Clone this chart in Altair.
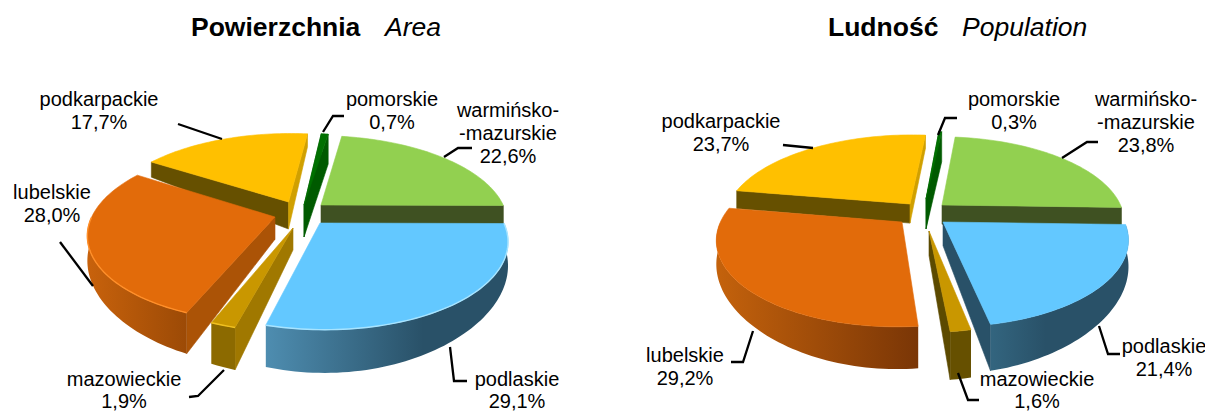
import math
import altair as alt
import pandas as pd

regions = ["warm", "podl", "maz", "lub", "podk", "pom"]
area_values = [22.6, 29.1, 1.9, 28.0, 17.7, 0.7]
population_values = [23.8, 21.4, 1.6, 29.2, 23.7, 0.3]

FONT = "Liberation Sans"
P, RX, RY, CY, H = 0.19, 185.0, 85.0, 212.0, 20.0

styles = {
    "warm": dict(top="#92D050", wall="#3F5122", side="#5A7A30"),
    "podl": dict(top="#63C8FF", wall="#295168", side="#295168"),
    "maz": dict(top="#C99700", wall="#A07800", side="#5C4A00"),
    "lub": dict(top="#E26B0A", wall="#AB5306", side="#AB5306"),
    "podk": dict(top="#FFC000", wall="#665000", side="#D0A000"),
    "pom": dict(top="#007000", wall="#005A00", side="#005A00"),
}
charts = [
    dict(values=area_values, start=9.0, cx=300.0,
         apex=dict(warm=(321, 205), podl=(320, 223), maz=(293, 228), lub=(275, 217), podk=(288.5, 202), pom=(304, 205)),
         radius=dict(podl=0.97, lub=0.98, maz=0.93, pom=1.04),
         scale_h=dict(lub=1.08),
         wall=dict(podk=(27, None), pom=(32, 30)),
         rim=dict(podl=("#4E8DB0", "#295168", 0.65), maz=("#8C6A00", "#8C6A00", 1), lub=("#C8620C", "#9C4A06", 1)),
         glow=dict(podl="#A8E4FF", lub="#FF8F2A", maz="#F0C020")),
    dict(values=population_values, start=6.0, cx=925.0,
         apex=dict(warm=(942, 205), podl=(943, 222), maz=(929, 231), lub=(902, 222), podk=(910, 204), pom=(926, 199)),
         radius=dict(warm=0.98, podl=0.96, lub=0.96, maz=0.9, pom=1.0),
         scale_h=dict(podl=1.12, maz=1.1),
         wall=dict(pom=(30, 30)),
         rim=dict(podl=("#33657F", "#295168", 0.4), maz=("#665000", "#665000", 1), lub=("#C4620C", "#7A3606", 1)),
         glow=dict()),
]
draw_order = ["pom", "podk", "warm", "lub", "maz", "podl"]

labels = [
    ("podkarpackie", 99, 106), ("17,7%", 99, 129), ("lubelskie", 52, 199), ("28,0%", 52, 222),
    ("mazowieckie", 124, 386), ("1,9%", 124, 408), ("pomorskie", 392, 106), ("0,7%", 392, 129),
    ("warmińsko-", 508, 117), ("-mazurskie", 508, 140), ("22,6%", 508, 163),
    ("podlaskie", 517, 386), ("29,1%", 517, 408),
    ("podkarpackie", 721, 128), ("23,7%", 721, 151), ("lubelskie", 685, 362), ("29,2%", 685, 385),
    ("mazowieckie", 1037, 386), ("1,6%", 1037, 408), ("pomorskie", 1014, 106), ("0,3%", 1014, 129),
    ("warmińsko-", 1146, 106), ("-mazurskie", 1146, 129), ("23,8%", 1146, 152),
    ("podlaskie", 1164, 353), ("21,4%", 1164, 376),
]
leaders = [
    [(178, 124), (222, 139)], [(60, 242), (93, 286)], [(189, 397), (198, 396), (224, 370)],
    [(344, 116), (333, 116), (323, 132)], [(472, 148), (458, 148), (444, 157)],
    [(467, 381), (454, 381), (450, 347)],
    [(783, 145), (813, 148)], [(731, 362), (743, 362), (753, 331)], [(979, 400), (968, 400), (958, 373)],
    [(957, 118), (945, 118), (938, 135)], [(1098, 142), (1087, 142), (1062, 158)],
    [(1120, 354), (1108, 354), (1099, 326)],
]
titles = [
    ("Powierzchnia", 191, "bold", "normal"), ("Area", 385, "normal", "italic"),
    ("Ludność", 828, "bold", "normal"), ("Population", 962, "normal", "italic"),
]

xs = alt.Scale(domain=[8, 1205], range=[0, 1197], nice=False, zero=False)
ys = alt.Scale(domain=[8, 412], range=[0, 404], nice=False, zero=False)
X = alt.X("x:Q", scale=xs, axis=None)
Y = alt.Y("y:Q", scale=ys, axis=None)


def poly(points, fill, stroke=None):
    pts = list(points) + [points[0]]
    df = pd.DataFrame({"x": [p[0] for p in pts], "y": [p[1] for p in pts], "o": range(len(pts))})
    return alt.Chart(df).mark_line(fill=fill, stroke=stroke or "transparent", strokeWidth=0.6, interpolate="linear").encode(
        x=X, y=Y, order="o:Q")


def polyline(points, color, width):
    df = pd.DataFrame({"x": [p[0] for p in points], "y": [p[1] for p in points], "o": range(len(points))})
    return alt.Chart(df).mark_line(stroke=color, strokeWidth=width).encode(x=X, y=Y, order="o:Q")


layers = []
for idx, c in enumerate(charts):
    cx = c["cx"]

    def invert(sx, sy):
        d = sy - CY
        yy = d / (RY + P * d)
        return (sx - cx) * (1 - P * yy) / RX, yy

    def project(xx, yy):
        s = 1 / (1 - P * yy)
        return cx + RX * xx * s, CY + RY * yy * s

    angle = c["start"]
    spans = {}
    for name, v in zip(regions, c["values"]):
        spans[name] = (angle, angle + 3.6 * v)
        angle += 3.6 * v

    for name in draw_order:
        a0, a1 = spans[name]
        r = c["radius"].get(name, 1.0)
        k = c["scale_h"].get(name, 1.0)

        def depth(yy):
            return k * H / (1 - 0.49 * yy)

        st = styles[name]
        ax, ay = invert(*c["apex"][name])
        n = max(3, int((a1 - a0) / 1.5))
        disk = []
        for i in range(n + 1):
            th = a0 + (a1 - a0) * i / n
            disk.append((ax + r * math.sin(math.radians(th)), ay - r * math.cos(math.radians(th)), th))
        apex_s = project(ax, ay)
        top = [apex_s] + [project(d[0], d[1]) for d in disk]
        e0 = project(disk[0][0], disk[0][1])
        e1 = project(disk[-1][0], disk[-1][1])
        centroid = ((apex_s[0] + e0[0] + e1[0]) / 3, (apex_s[1] + e0[1] + e1[1]) / 3)
        apex_h, edge_h = c["wall"].get(name, (None, None))

        def visible(edge):
            dx = edge[0] - apex_s[0]
            if abs(dx) < 1e-6:
                return False
            return centroid[1] < apex_s[1] + (centroid[0] - apex_s[0]) * (edge[1] - apex_s[1]) / dx

        for (d, which) in ((disk[0], "start"), (disk[-1], "end")):
            edge = project(d[0], d[1])
            if visible(edge) or name == "pom":
                color = st["wall"] if which == "start" else st["side"]
                if name == "maz" and idx == 0:
                    color = "#A07800"
                if name == "warm":
                    color = st["wall"]
                eh = edge_h if edge_h is not None else depth(d[1])
                ah = apex_h if apex_h is not None else depth(ay)
                quad = [apex_s, edge, (edge[0], edge[1] + eh), (apex_s[0], apex_s[1] + ah)]
                layers.append(poly(quad, color, color))

        front = [d for d in disk if math.cos(math.radians(d[2])) < 0]
        if name in c["rim"] and len(front) > 1:
            left_c, right_c, stop = c["rim"][name]
            upper = [project(d[0], d[1]) for d in front]
            lower = [(u[0], u[1] + depth(d[1])) for u, d in zip(upper, front)]
            grad = alt.Gradient(gradient="linear", x1=0, x2=1, y1=0, y2=0, stops=[
                alt.GradientStop(color=left_c, offset=0),
                alt.GradientStop(color=right_c, offset=stop),
                alt.GradientStop(color=right_c, offset=1),
            ])
            layers.append(poly(upper + lower[::-1], grad))

        layers.append(poly(top, st["top"], st["top"]))
        if name in c["glow"] and len(front) > 1:
            layers.append(polyline([project(d[0], d[1]) for d in front], c["glow"][name], 1.4))

for line in leaders:
    layers.append(polyline(line, "#000000", 2.3))

text_df = pd.DataFrame(labels, columns=["t", "x", "y"])
layers.append(alt.Chart(text_df).mark_text(font=FONT, fontSize=20, align="center", baseline="alphabetic", color="#000000").encode(
    x=X, y=Y, text="t:N"))
for t, x, w, s in titles:
    layers.append(alt.Chart(pd.DataFrame({"t": [t], "x": [x], "y": [36]})).mark_text(
        font=FONT, fontSize=26.5, fontWeight=w, fontStyle=s, align="left", baseline="alphabetic", color="#000000").encode(
        x=X, y=Y, text="t:N"))

chart = alt.layer(*layers).properties(width=1197, height=404, padding=0, autosize="none", background="white").configure_view(stroke=None)
chart.save("out.html", embed_options={"renderer": "svg", "actions": False})
